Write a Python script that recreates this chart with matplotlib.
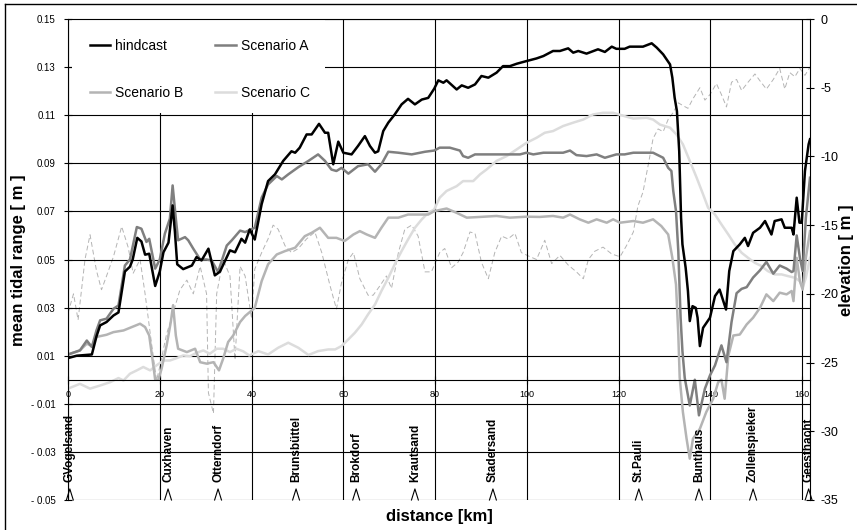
import numpy as np
import matplotlib
matplotlib.use('Agg')
import matplotlib.pyplot as plt
from matplotlib.patches import Rectangle
from matplotlib.lines import Line2D

plt.rcParams['font.family'] = ['Liberation Sans', 'DejaVu Sans']
plt.rcParams['axes.unicode_minus'] = False

# ---------------- data ----------------
hind_km = [0, 1.9, 5.2, 6.2, 7.0, 8.4, 9.9, 11.0, 12.4, 13.5,
           14.1, 15.1, 16.0, 16.8, 17.7, 19.0, 20.0, 20.8, 21.9, 22.8,
           23.3, 23.8, 25.1, 27.0, 28.0, 29.1, 30.6, 32.0, 33.1, 35.3,
           36.4, 37.8, 38.6, 39.6, 40.7, 42.2, 43.6, 45.1, 46.9, 48.7,
           49.5, 50.5, 52.0, 53.1, 54.7, 56.0, 56.7, 57.8, 58.9, 60.0,
           61.8, 63.2, 64.7, 65.8, 66.9, 67.6, 68.7, 69.8, 71.2, 72.7,
           74.1, 75.6, 77.1, 78.5, 79.8, 80.7, 81.8, 82.5, 84.7, 85.8,
           87.2, 88.7, 90.1, 91.6, 93.4, 94.8, 96.3, 97.8, 99.9, 102.1,
           103.6, 105.7, 107.2, 109.0, 110.1, 111.2, 113.0, 115.5, 117.0, 118.5,
           119.5, 121.3, 122.4, 125.3, 127.2, 128.3, 129.7, 131.2, 131.7, 132.2,
           132.7, 133.2, 133.6, 133.9, 134.6, 135.1, 135.5, 136.1, 136.8, 137.2,
           137.7, 138.4, 139.9, 141.0, 142.0, 143.4, 144.1, 145.0, 146.4, 147.5,
           148.2, 149.3, 150.8, 151.9, 153.3, 154.0, 155.5, 156.2, 157.7, 158.1,
           158.8, 159.4, 159.9, 160.6, 161.4, 161.7]
hindcast = [0.009, 0.010, 0.0105, 0.018, 0.0226, 0.024, 0.0267, 0.028, 0.045, 0.047,
            0.050, 0.059, 0.0575, 0.052, 0.0524, 0.039, 0.045, 0.053, 0.057, 0.0725,
            0.0615, 0.048, 0.046, 0.0475, 0.051, 0.0496, 0.0545, 0.0434, 0.0449, 0.0538,
            0.053, 0.0586, 0.057, 0.0625, 0.0583, 0.073, 0.0826, 0.0854, 0.091, 0.095,
            0.0944, 0.0965, 0.102, 0.102, 0.1064, 0.1027, 0.1027, 0.0896, 0.099, 0.0944,
            0.0937, 0.0972, 0.1013, 0.0972, 0.0944, 0.095, 0.1034, 0.1069, 0.1103, 0.1145,
            0.1168, 0.1145, 0.1165, 0.1172, 0.121, 0.1245, 0.1235, 0.1245, 0.1207, 0.1224,
            0.1214, 0.1228, 0.1263, 0.1256, 0.1277, 0.1304, 0.1304, 0.1314, 0.1325, 0.1336,
            0.1346, 0.1367, 0.1367, 0.1378, 0.136, 0.1367, 0.1356, 0.1374, 0.1363, 0.1385,
            0.1376, 0.1376, 0.1385, 0.1385, 0.1399, 0.1381, 0.1353, 0.1311, 0.1256, 0.1173,
            0.1117, 0.095, 0.0674, 0.0563, 0.0466, 0.0369, 0.0244, 0.0306, 0.0299, 0.0258,
            0.014, 0.0216, 0.0258, 0.0348, 0.0375, 0.0292, 0.0452, 0.0535, 0.0563, 0.059,
            0.0556, 0.0611, 0.0632, 0.066, 0.0604, 0.066, 0.0667, 0.0632, 0.0632, 0.0604,
            0.0757, 0.0653, 0.0653, 0.0868, 0.0979, 0.100]

a_km = [0, 2.6, 4.1, 5.2, 6.2, 7.0, 8.4, 9.9, 11.0, 12.4,
        13.5, 15.0, 16.0, 17.1, 17.7, 19.0, 20.0, 21.1, 22.2, 22.8,
        23.5, 24.0, 25.5, 26.2, 27.3, 28.8, 30.2, 31.3, 32.7, 34.6,
        35.7, 37.5, 38.6, 40.7, 42.2, 43.6, 45.5, 46.6, 48.0, 50.2,
        52.4, 54.5, 56.0, 57.4, 58.5, 59.6, 61.1, 63.2, 65.4, 66.9,
        68.3, 69.8, 72.0, 74.9, 77.8, 79.8, 81.0, 83.2, 85.4, 86.1,
        87.2, 88.7, 91.2, 94.8, 98.5, 99.9, 101.4, 103.6, 107.9, 109.4,
        110.8, 113.0, 115.2, 117.0, 119.5, 121.3, 123.2, 127.5, 129.7, 130.8,
        131.5, 131.9, 132.5, 133.0, 133.5, 133.9, 134.4, 135.5, 136.6, 137.5,
        138.8, 139.9, 141.0, 142.4, 143.5, 144.6, 145.7, 146.8, 147.9, 149.3,
        150.8, 152.2, 153.7, 155.1, 156.6, 157.7, 158.1, 158.8, 159.5, 160.1,
        160.8, 161.7]
scen_a = [0.0105, 0.0122, 0.0163, 0.0136, 0.0205, 0.0247, 0.0254, 0.0295, 0.0309, 0.0475,
          0.050, 0.0635, 0.0628, 0.0573, 0.0586, 0.0462, 0.050, 0.0607, 0.067, 0.0808,
          0.067, 0.058, 0.0593, 0.058, 0.0545, 0.050, 0.050, 0.0496, 0.0448, 0.0558,
          0.058, 0.062, 0.0614, 0.0632, 0.0757, 0.0812, 0.0847, 0.0833, 0.0854, 0.0884,
          0.091, 0.0937, 0.091, 0.0874, 0.0868, 0.0881, 0.0857, 0.0888, 0.0896, 0.0865,
          0.0896, 0.0948, 0.0944, 0.0937, 0.0948, 0.0953, 0.0965, 0.0965, 0.0953, 0.093,
          0.0923, 0.0937, 0.0937, 0.0937, 0.0937, 0.0944, 0.0937, 0.0944, 0.0944, 0.0953,
          0.0934, 0.093, 0.0937, 0.0923, 0.0937, 0.0937, 0.0944, 0.0944, 0.0923, 0.0881,
          0.0868, 0.0785, 0.0701, 0.0535, 0.0258, 0.0119, 0.0008, -0.0107, 0.0, -0.0148,
          -0.0037, 0.0018, 0.006, 0.0143, 0.0073, 0.024, 0.036, 0.0378, 0.0385, 0.0425,
          0.0455, 0.049, 0.0441, 0.0475, 0.0462, 0.0448, 0.0452, 0.060, 0.0507, 0.0452,
          0.0674, 0.084]

b_km = [0, 2.6, 4.1, 5.2, 6.2, 8.4, 9.9, 12.1, 13.9, 15.7,
        16.8, 17.7, 18.4, 19.0, 19.7, 20.4, 21.5, 22.4, 22.9, 23.5,
        24.0, 25.9, 27.7, 28.8, 30.2, 31.7, 32.9, 33.8, 34.9, 36.0,
        37.5, 38.6, 40.7, 42.2, 43.6, 45.5, 47.3, 49.5, 51.6, 53.1,
        54.9, 56.7, 58.5, 60.3, 62.2, 63.6, 65.1, 66.9, 68.3, 69.8,
        72.0, 74.1, 76.3, 78.5, 79.8, 82.5, 84.7, 86.9, 89.8, 93.4,
        96.3, 99.9, 102.8, 105.7, 107.9, 109.4, 111.5, 113.4, 115.2, 117.4,
        118.8, 120.3, 123.2, 125.3, 127.5, 129.3, 130.8, 131.7, 132.5, 133.0,
        133.3, 134.0, 134.8, 135.5, 136.2, 137.7, 139.1, 140.6, 141.7, 142.4,
        143.1, 143.9, 145.0, 146.4, 147.9, 149.3, 150.8, 152.2, 153.7, 155.1,
        156.6, 157.7, 158.1, 158.8, 159.5, 160.1, 160.8, 161.7]
scen_b = [0.0105, 0.0122, 0.015, 0.014, 0.0178, 0.0187, 0.0198, 0.0205, 0.0219, 0.0233,
          0.0219, 0.0184, 0.0087, 0.0, 0.0, 0.0046, 0.0143, 0.024, 0.031, 0.0184,
          0.0129, 0.0115, 0.0129, 0.0073, 0.0067, 0.0073, 0.0039, 0.0087, 0.0157, 0.0184,
          0.024, 0.0265, 0.0299, 0.041, 0.048, 0.0521, 0.0535, 0.0549, 0.0597, 0.0611,
          0.0632, 0.059, 0.059, 0.0577, 0.0604, 0.0618, 0.0604, 0.059, 0.0632, 0.0674,
          0.0674, 0.0687, 0.0687, 0.0687, 0.0701, 0.0712, 0.0694, 0.0674, 0.0677, 0.0681,
          0.0674, 0.0678, 0.0677, 0.0681, 0.0674, 0.0687, 0.0667, 0.0653, 0.0667, 0.0653,
          0.0667, 0.0653, 0.066, 0.0653, 0.0667, 0.0639, 0.0604, 0.0507, 0.0396, 0.0188,
          0.001, -0.0134, -0.0245, -0.0328, -0.0245, -0.0204, -0.0134, -0.0079, -0.001, 0.0,
          -0.0079, 0.01, 0.0184, 0.0188, 0.023, 0.0258, 0.0299, 0.0355, 0.0327, 0.0362,
          0.0355, 0.0369, 0.0327, 0.0507, 0.041, 0.0375, 0.0507, 0.0618]

c_km = [0, 2.6, 4.8, 7.0, 9.2, 11.0, 12.1, 13.5, 15.0, 16.4,
        17.9, 19.3, 20.8, 22.2, 23.7, 25.1, 26.6, 28.0, 29.5, 30.9,
        32.4, 33.8, 35.3, 36.7, 38.2, 39.5, 41.5, 43.6, 45.8, 48.0,
        50.2, 52.4, 54.5, 56.7, 58.2, 59.6, 61.1, 62.5, 64.0, 65.4,
        66.9, 68.3, 69.8, 71.2, 72.7, 74.1, 75.6, 77.1, 78.5, 79.8,
        81.0, 82.5, 84.7, 86.1, 88.3, 89.8, 91.2, 93.4, 95.6, 97.8,
        99.9, 102.1, 103.9, 105.7, 107.9, 110.1, 112.3, 114.4, 116.6, 118.8,
        121.3, 123.2, 126.1, 127.5, 129.0, 131.2, 132.6, 134.0, 135.5, 137.0,
        138.4, 139.5, 141.0, 142.4, 143.9, 145.3, 146.8, 148.2, 149.7, 151.1,
        152.5, 154.0, 155.5, 156.9, 158.4, 159.5, 160.1, 160.8, 161.7]
scen_c = [-0.0037, -0.0017, -0.0037, -0.0024, -0.001, 0.0007, -0.0003, 0.0025, 0.0039, 0.0053,
          0.0039, 0.006, 0.008, 0.008, 0.009, 0.0101, 0.0098, 0.0112, 0.0122, 0.0108,
          0.0129, 0.0129, 0.0115, 0.0129, 0.0118, 0.0101, 0.0119, 0.0105, 0.0133, 0.0154,
          0.0133, 0.0103, 0.0119, 0.0126, 0.0126, 0.014, 0.0168, 0.0195, 0.023, 0.0272,
          0.0313, 0.0369, 0.0424, 0.048, 0.0535, 0.0583, 0.0632, 0.0667, 0.0694, 0.0708,
          0.0757, 0.0785, 0.0805, 0.0826, 0.0826, 0.0854, 0.0874, 0.091, 0.093, 0.0958,
          0.0985, 0.1006, 0.1027, 0.1034, 0.1055, 0.1069, 0.1082, 0.1103, 0.111, 0.111,
          0.1096, 0.1086, 0.1089, 0.1082, 0.1061, 0.1048, 0.102, 0.0979, 0.091, 0.084,
          0.0771, 0.0715, 0.0687, 0.0646, 0.0604, 0.0563, 0.0528, 0.0507, 0.0486, 0.0473,
          0.0452, 0.0438, 0.0438, 0.0431, 0.0424, 0.041, 0.0383, 0.0424, 0.0507]

elev_km = [0, 1.2, 2.2, 3.7, 4.8, 6.2, 7.3, 8.4, 9.9, 11.7,
           13.1, 14.2, 15.7, 16.8, 18.2, 19.3, 20.0, 21.5, 22.9, 24.4,
           25.9, 27.3, 28.8, 30.2, 30.6, 31.7, 32.4, 33.8, 35.3, 36.4,
           37.5, 38.6, 40.0, 40.7, 42.2, 43.6, 44.7, 45.8, 47.3, 48.7,
           50.2, 52.0, 53.8, 55.3, 57.1, 58.5, 59.6, 61.1, 62.2, 63.6,
           65.4, 66.5, 68.0, 69.4, 70.5, 72.0, 73.4, 74.9, 76.3, 77.8,
           79.2, 81.0, 82.1, 83.6, 85.0, 86.1, 87.6, 88.7, 90.1, 91.6,
           93.0, 94.5, 95.9, 97.4, 98.8, 100.7, 102.1, 103.9, 105.4, 107.2,
           109.0, 110.8, 112.3, 113.4, 114.8, 116.6, 118.5, 120.3, 121.7, 123.2,
           124.2, 125.3, 126.4, 127.5, 128.6, 129.7, 130.8, 131.9, 133.0, 134.0,
           135.1, 136.2, 137.7, 138.8, 139.9, 141.3, 142.4, 143.5, 144.6, 145.7,
           146.8, 148.2, 149.7, 150.8, 152.2, 153.7, 155.1, 156.2, 157.3, 158.4,
           159.5, 160.6, 161.7]
elevation = [-21.4, -20, -21.9, -17.5, -15.7, -18.3, -19.7, -18.7, -17.3, -15.1,
             -16.6, -18.5, -17.5, -20, -23.6, -26.3, -25.3, -22.9, -21.4, -19.7,
             -19, -20, -18, -20, -27.2, -28.7, -20, -17.5, -18.7, -24.8,
             -18, -18.7, -21.8, -18.2, -17, -16, -15, -15.3, -16.5, -17,
             -16.7, -16, -15.5, -17, -19.4, -21.1, -19.2, -17.5, -17, -18.9,
             -20.1, -20.1, -19.4, -18.7, -19.6, -17, -15.3, -15, -15.8, -18.4,
             -18.4, -17, -16.7, -18.1, -17.7, -17, -15.5, -15.6, -17.7, -18.9,
             -17, -15.8, -16, -15.6, -17, -17.3, -17.5, -16.1, -17.8, -17.2,
             -17.9, -18.4, -18.9, -17.5, -16.9, -16.6, -17.1, -17.3, -16.5, -15.5,
             -13.6, -12.6, -10.7, -8.7, -8.0, -8.2, -7.3, -6.8, -6.1, -6.3,
             -6.5, -5.8, -5.0, -5.9, -5.5, -4.7, -5.5, -6.4, -4.6, -4.4,
             -5.2, -4.6, -4.0, -4.5, -5.1, -4.4, -3.6, -5.1, -3.9, -4.2,
             -3.6, -4.1, -3.5]

station_names = ['GVogelsand', 'Cuxhaven', 'Otterndorf', 'Brunsbüttel', 'Brokdorf',
                 'Krautsand', 'Stadersand', 'St.Pauli', 'Bunthaus', 'Zollenspieker',
                 'Geesthacht']
station_km = [0.4, 21.8, 32.7, 49.7, 62.8, 75.6, 92.6, 124.4, 137.5, 149.3, 161.4]

left_ticks = [0.15, 0.13, 0.11, 0.09, 0.07, 0.05, 0.03, 0.01, -0.01, -0.03, -0.05]
left_tick_labels = ['0.15', '0.13', '0.11', '0.09', '0.07', '0.05', '0.03', '0.01',
                    '- 0.01', '- 0.03', '- 0.05']
x_ticks = [0, 20, 40, 60, 80, 100, 120, 140, 160]
right_ticks = [0, -5, -10, -15, -20, -25, -30, -35]

legend_labels = ['hindcast', 'Scenario A', 'Scenario B', 'Scenario C']

# ---------------- figure ----------------
W, H = 857, 530
fig = plt.figure(figsize=(W / 100, H / 100), dpi=100)
ax = fig.add_axes([68 / W, 30 / H, 742 / W, 481 / H])
ax2 = ax.twinx()
ax.set_zorder(ax2.get_zorder() + 1)
ax.patch.set_visible(False)

ax.set_xlim(0, 161.7)
ax.set_ylim(-0.05, 0.15)
ax2.set_ylim(-35, 0)

ax2.plot(elev_km, elevation, color='#b4b4b4', lw=0.7, dashes=(5, 3))

hC, = ax.plot(c_km, scen_c, color='#dcdcdc', lw=1.8, zorder=2)
hB, = ax.plot(b_km, scen_b, color='#b4b4b4', lw=1.8, zorder=2)
hA, = ax.plot(a_km, scen_a, color='#7f7f7f', lw=1.8, zorder=2)
hH, = ax.plot(hind_km, hindcast, color='black', lw=1.8, zorder=2)

ax.set_axisbelow(True)
ax.set_yticks(left_ticks)
ax.set_yticklabels(left_tick_labels)
ax.set_xticks(x_ticks)
ax.grid(True, color='black', lw=0.8)
ax.spines['right'].set_visible(False)
ax.spines['bottom'].set_position(('data', 0))
for s in ['left', 'top', 'bottom']:
    ax.spines[s].set_linewidth(0.8)
ax.tick_params(axis='y', direction='inout', length=6, width=0.8, labelsize=7, pad=6.0)
ax.tick_params(axis='x', direction='inout', length=6, width=0.8, labelsize=6.5, pad=4.5)

for s in ['left', 'top', 'bottom']:
    ax2.spines[s].set_visible(False)
ax2.spines['right'].set_linewidth(0.8)
ax2.set_yticks(right_ticks)
ax2.tick_params(axis='y', direction='inout', length=6, width=0.8, labelsize=9, pad=4.3)

# white background behind legend
ax.add_patch(Rectangle((0.006, 0.804), 0.34, 0.194, transform=ax.transAxes,
                       facecolor='white', edgecolor='none', zorder=1))
ax.legend([hH, hB, hA, hC],
          [legend_labels[0], legend_labels[2], legend_labels[1], legend_labels[3]],
          ncol=2, loc='upper left', bbox_to_anchor=(0.029, 0.958), frameon=False,
          fontsize=10, handlelength=1.5, handletextpad=0.35, columnspacing=2.3,
          labelspacing=2.36, borderpad=0, borderaxespad=0)

# stations
for km, name in zip(station_km, station_names):
    ax.text(km, -0.0425, name, rotation=90, ha='center', va='bottom',
            fontsize=8.5, fontweight='bold', zorder=3)
    ax.plot([km - 0.75, km, km + 0.75], [-0.05, -0.0454, -0.05], color='black',
            lw=0.8, clip_on=False, zorder=3)

fig.text(19 / W, 1 - 260 / H, 'mean tidal range [ m ]', rotation=90, ha='center',
         va='center', fontsize=12, fontweight='bold')
fig.text(846 / W, 1 - 260 / H, 'elevation [ m ]', rotation=90, ha='center',
         va='center', fontsize=12, fontweight='bold')
fig.text(439.5 / W, 1 - 517 / H, 'distance [km]', ha='center', va='center',
         fontsize=12, fontweight='bold')

fig.add_artist(Line2D([5 / W, 1], [1 - 4 / H, 1 - 4 / H], transform=fig.transFigure,
                      color='black', lw=1))
fig.add_artist(Line2D([5 / W, 5 / W], [0, 1 - 4 / H], transform=fig.transFigure,
                      color='black', lw=1))

fig.savefig('out.png', dpi=100)
